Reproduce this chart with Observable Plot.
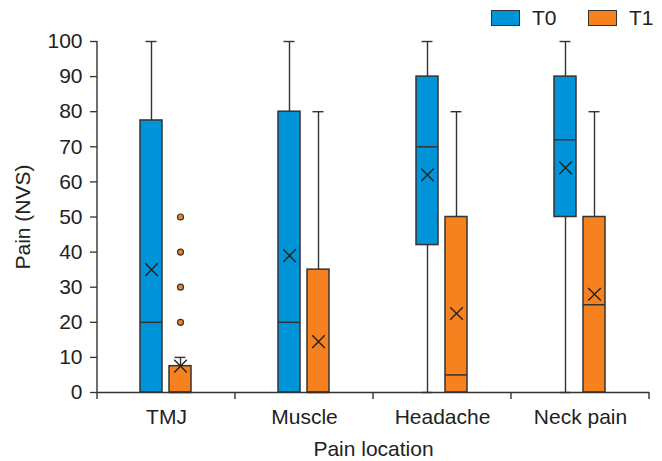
<!DOCTYPE html>
<html>
<head>
<meta charset="utf-8">
<script src="https://cdn.jsdelivr.net/npm/d3@7"></script>
<script src="https://cdn.jsdelivr.net/npm/@observablehq/plot@0.6"></script>
<style>
  html, body { margin: 0; padding: 0; background: #fff; }
  body { width: 662px; height: 461px; overflow: hidden; font-family: "Liberation Sans", Arial, sans-serif; color: #222; }
  #legend { position: relative; height: 30px; }
  .item { position: absolute; top: 9px; display: flex; align-items: center; font-size: 21px; line-height: 17px; }
  .sw { width: 27px; height: 14px; border: 1.3px solid #333; margin-right: 12px; }
</style>
</head>
<body>
<div id="legend"></div>
<div id="chart"></div>
<script>
// ---- data ----
const categories = ["TMJ", "Muscle", "Headache", "Neck pain"];
const groups = ["T0", "T1"];
const colors = ["#0095d8", "#f5821f"];

// T0 box statistics (per category)
const t0Min    = [0, 0, 0, 0];
const t0Q1     = [0, 0, 42, 50];
const t0Median = [20, 20, 70, 72];
const t0Q3     = [77.5, 80, 90, 90];
const t0Max    = [100, 100, 100, 100];
const t0Mean   = [35, 39, 62, 64];

// T1 box statistics (per category)
const t1Min    = [0, 0, 0, 0];
const t1Q1     = [0, 0, 0, 0];
const t1Median = [0, 0, 5, 25];
const t1Q3     = [7.5, 35, 50, 50];
const t1Max    = [10, 80, 80, 80];
const t1Mean   = [7.5, 14.5, 22.5, 28];

// outliers
const outlierCategory = ["TMJ", "TMJ", "TMJ", "TMJ"];
const outlierGroup    = ["T1", "T1", "T1", "T1"];
const outlierValue    = [20, 30, 40, 50];

const yTicks = [0, 10, 20, 30, 40, 50, 60, 70, 80, 90, 100];

// ---- table for Plot ----
const rows = [];
categories.forEach((c, i) => {
  rows.push({category: c, group: "T0", min: t0Min[i], q1: t0Q1[i], median: t0Median[i], q3: t0Q3[i], max: t0Max[i], mean: t0Mean[i]});
  rows.push({category: c, group: "T1", min: t1Min[i], q1: t1Q1[i], median: t1Median[i], q3: t1Q3[i], max: t1Max[i], mean: t1Mean[i]});
});
const outliers = outlierValue.map((v, i) => ({category: outlierCategory[i], group: outlierGroup[i], value: v}));

// ---- legend ----
const legend = document.getElementById("legend");
const legendLeft = [491, 588];
groups.forEach((g, i) => {
  const it = document.createElement("div");
  it.className = "item";
  it.style.left = legendLeft[i] + "px";
  it.innerHTML = `<span class="sw" style="background:${colors[i]}"></span><span>${g}</span>`;
  legend.appendChild(it);
});

const ink = "#333";
const plot = Plot.plot({
  width: 662,
  height: 431,
  marginTop: 11,
  marginBottom: 69,
  marginLeft: 96,
  marginRight: 13,
  style: {fontFamily: "'Liberation Sans', Arial, sans-serif", fontSize: "21px", color: "#222", background: "#fff"},
  fx: {domain: categories, padding: 0},
  x: {domain: groups, paddingInner: 0.2333, paddingOuter: 1.421, axis: null},
  y: {domain: [0, 100]},
  color: {domain: groups, range: colors},
  marks: [
    Plot.axisY({ticks: yTicks, tickSize: 7, tickPadding: 8, stroke: ink, strokeWidth: 1.3, fontSize: 21,
      label: "Pain (NVS)", labelAnchor: "center", labelOffset: 82, labelArrow: "none"}),
    Plot.axisFx({anchor: "bottom", tickSize: 0, tickPadding: 17, fontSize: 21,
      label: "Pain location", labelAnchor: "center", labelOffset: 63, labelArrow: "none"}),
    Plot.ruleX(rows, {fx: "category", x: "group", y1: "min", y2: "max", stroke: ink, strokeWidth: 1.4}),
    Plot.tickY(rows, {fx: "category", x: "group", y: "max", inset: 5.5, stroke: ink, strokeWidth: 1.4}),
    Plot.tickY(rows.filter(d => d.min < d.q1), {fx: "category", x: "group", y: "min", inset: 5.5, stroke: ink, strokeWidth: 1.4}),
    Plot.barY(rows, {fx: "category", x: "group", y1: "q1", y2: "q3", fill: "group", stroke: ink, strokeWidth: 1.5}),
    Plot.tickY(rows, {fx: "category", x: "group", y: "median", stroke: ink, strokeWidth: 1.5}),
    Plot.dot(rows, {fx: "category", x: "group", y: "mean", symbol: "times", r: 5.8, stroke: "#222", strokeWidth: 1.4}),
    Plot.dot(outliers, {fx: "category", x: "group", y: "value", r: 3, fill: colors[1], stroke: ink, strokeWidth: 1.2}),
    Plot.ruleY([0], {stroke: ink, strokeWidth: 1.4})
  ]
});
document.getElementById("chart").appendChild(plot);

// axis line on the left and category boundary ticks, from Plot's own scales
const ys = plot.scale("y"), fxs = plot.scale("fx");
const svg = d3.select(plot);
const g = svg.append("g").attr("stroke", ink).attr("stroke-width", 1.4);
const x0 = fxs.apply(categories[0]);
g.append("line").attr("x1", x0).attr("x2", x0).attr("y1", ys.apply(0)).attr("y2", ys.apply(100));
const bounds = categories.map(c => fxs.apply(c)).concat([fxs.apply(categories[categories.length - 1]) + fxs.bandwidth]);
bounds.forEach(b => g.append("line").attr("x1", b).attr("x2", b).attr("y1", ys.apply(0)).attr("y2", ys.apply(0) + 7));
</script>
</body>
</html>
